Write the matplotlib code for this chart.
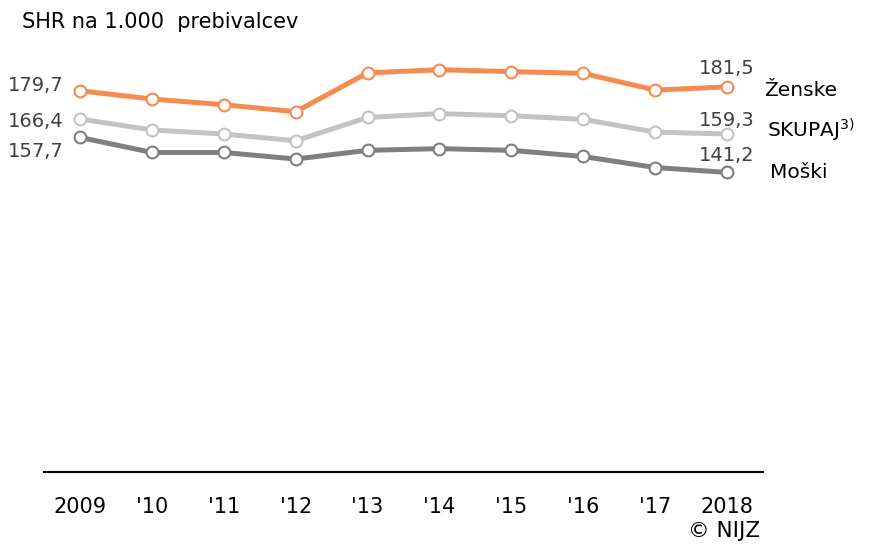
import matplotlib.pyplot as plt
import numpy as np

years = np.arange(2009, 2019)
tick_labels = ["2009", "'10", "'11", "'12", "'13", "'14", "'15", "'16", "'17", "2018"]

zenske = [179.7, 175.8, 173.1, 169.8, 188.1, 189.6, 188.7, 187.9, 180.0, 181.5]
skupaj = [166.4, 161.2, 159.3, 156.1, 167.1, 168.9, 167.9, 166.2, 160.2, 159.3]
moski = [157.7, 150.6, 150.6, 147.5, 151.6, 152.4, 151.6, 148.7, 143.5, 141.2]

c_orange = '#F58B50'
c_light = '#C3C3C3'
c_dark = '#7F7F7F'
c_text = '#404040'

fig = plt.figure(figsize=(8.71, 5.44), dpi=100)
ax = fig.add_axes([0.0505, 0.1324, 0.8255, 0.78])

for vals, col in [(moski, c_dark), (skupaj, c_light), (zenske, c_orange)]:
    ax.plot(years, vals, color=col, lw=3.6, marker='o', ms=8.5,
            mfc='white', mec=col, mew=1.5, zorder=3)

ax.set_xlim(2008.5, 2018.5)
ax.set_ylim(0, 200)
ax.set_yticks([])
ax.set_xticks(years)
ax.set_xticklabels(tick_labels, fontsize=15)
ax.tick_params(axis='x', length=0, pad=18)
for s in ['top', 'right', 'left']:
    ax.spines[s].set_visible(False)
ax.spines['bottom'].set_linewidth(1.5)

# start/end value labels
fmt = lambda v: f"{v:.1f}".replace('.', ',')
for vals, dy in [(zenske, 4), (skupaj, -2), (moski, -10.5)]:
    ax.annotate(fmt(vals[0]), (years[0], vals[0]),
                xytext=(-12, dy), textcoords='offset points', ha='right', va='center',
                fontsize=14, color=c_text)
for vals, dy in [(zenske, 13.5), (skupaj, 10), (moski, 12)]:
    ax.annotate(fmt(vals[-1]), (years[-1], vals[-1]),
                xytext=(0, dy), textcoords='offset points', ha='center', va='center',
                fontsize=14, color=c_text)

# series names
ax.annotate("Ženske", (years[-1], zenske[-1]), xytext=(27, -6.5), textcoords='offset points',
            ha='left', va='baseline', fontsize=14.5, color='black')
ax.annotate("SKUPAJ$^{3)}$", (years[-1], skupaj[-1]), xytext=(29, -2.2), textcoords='offset points',
            ha='left', va='baseline', fontsize=14.5, color='black')
ax.annotate("Moški", (years[-1], moski[-1]), xytext=(31, -3.8), textcoords='offset points',
            ha='left', va='baseline', fontsize=14.5, color='black')

fig.text(0.025, 0.96, "SHR na 1.000  prebivalcev", fontsize=15, va='center', ha='left')
fig.text(0.873, 0.024, "© NIJZ", fontsize=15.5, va='center', ha='right')

fig.savefig('out.png', dpi=100)
